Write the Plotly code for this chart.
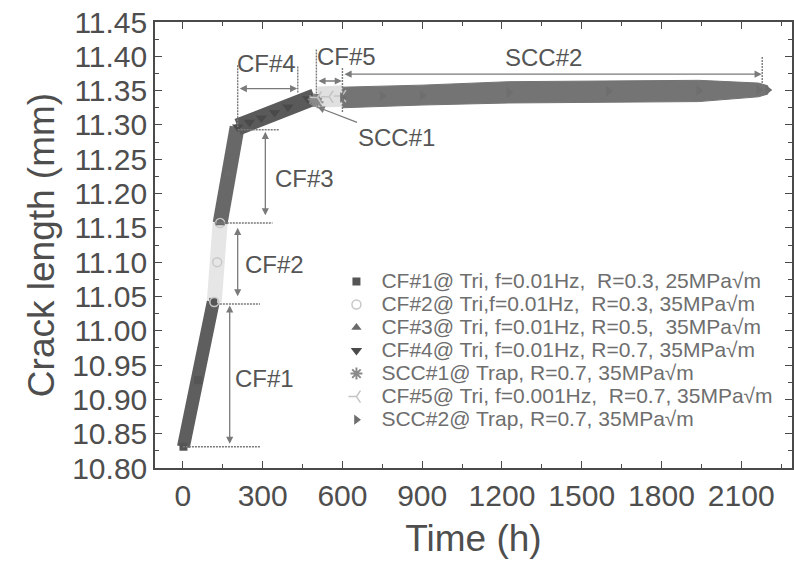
import plotly.graph_objects as go

# ---------------- data ----------------
# (time in h, crack length in mm) along the centre of each data band
cf1_t = [2, 57, 114]
cf1_v = [10.831, 10.928, 11.042]

cf2_t = [118, 129, 140]
cf2_v = [11.042, 11.100, 11.157]

cf3_t = [140, 172, 204]
cf3_v = [11.157, 11.228, 11.297]

cf4_t = [206, 250, 295, 345, 395, 470, 495]
cf4_v = [11.297, 11.304, 11.310, 11.318, 11.326, 11.338, 11.341]

scc1_t = [492, 499, 506]
scc1_v = [11.337, 11.335, 11.333]

cf5_t = [506, 550, 598]
cf5_hi = [11.355, 11.356, 11.357]
cf5_lo = [11.326, 11.326, 11.327]
cf5_v = [11.340, 11.341, 11.342]

scc2_t = [600, 750, 900, 1226, 1600, 1940, 2165, 2200]
scc2_hi = [11.355, 11.356, 11.358, 11.363, 11.364, 11.365, 11.361, 11.357]
scc2_lo = [11.325, 11.327, 11.329, 11.332, 11.333, 11.334, 11.341, 11.345]
scc2_v = [11.340, 11.342, 11.343, 11.347, 11.349, 11.350, 11.351, 11.351]

legend_names = [
    "CF#1@ Tri, f=0.01Hz,  R=0.3, 25MPa\u221am",
    "CF#2@ Tri,f=0.01Hz,  R=0.3, 35MPa\u221am",
    "CF#3@ Tri, f=0.01Hz, R=0.5,  35MPa\u221am",
    "CF#4@ Tri, f=0.01Hz, R=0.7, 35MPa\u221am",
    "SCC#1@ Trap, R=0.7, 35MPa\u221am",
    "CF#5@ Tri, f=0.001Hz,  R=0.7, 35MPa\u221am",
    "SCC#2@ Trap, R=0.7, 35MPa\u221am",
]

x_ticks = [0, 300, 600, 900, 1200, 1500, 1800, 2100]
y_ticks = [10.80, 10.85, 10.90, 10.95, 11.00, 11.05, 11.10, 11.15,
           11.20, 11.25, 11.30, 11.35, 11.40, 11.45]

FONT = "Liberation Sans, Arial, sans-serif"
fig = go.Figure()


def band_line(t, v, color, width, group):
    fig.add_trace(go.Scatter(x=t, y=v, mode="lines", line=dict(color=color, width=width),
                             showlegend=False, legendgroup=group, hoverinfo="skip"))


def band_poly(t, hi, lo, color, group):
    fig.add_trace(go.Scatter(x=list(t) + list(t)[::-1], y=list(hi) + list(lo)[::-1],
                             mode="lines", fill="toself", fillcolor=color,
                             line=dict(color=color, width=1),
                             showlegend=False, legendgroup=group, hoverinfo="skip"))


def marks(t, v, name, symbol, color, size, group, lw=0, lc=None):
    label = '<span style="font-size:21px">' + name + '</span>'
    fig.add_trace(go.Scatter(x=t, y=v, mode="markers", name=label, legendgroup=group,
                             marker=dict(symbol=symbol, color=color, size=size,
                                         line=dict(width=lw, color=lc or color))))


band_line(cf2_t, cf2_v, "#e6e6e6", 15, "g2")
band_line(cf1_t, cf1_v, "#5e5e5e", 13, "g1")
band_line(cf3_t, cf3_v, "#686868", 15, "g3")
band_line(cf4_t, cf4_v, "#5a5a5a", 17, "g4")
band_poly(cf5_t, cf5_hi, cf5_lo, "#e0e0e0", "g6")
band_poly(scc2_t, scc2_hi, scc2_lo, "#747474", "g7")

marks(cf1_t, cf1_v, legend_names[0], "square", "#555555", 8, "g1")
marks(cf2_t, cf2_v, legend_names[1], "circle-open", "#c8c8c8", 9, "g2", 1.5)
marks(cf3_t, cf3_v, legend_names[2], "triangle-up", "#6a6a6a", 9, "g3")
marks(cf4_t, cf4_v, legend_names[3], "triangle-down", "#4a4a4a", 10, "g4")
marks(scc1_t, scc1_v, legend_names[4], "asterisk", "#9a9a9a", 10, "g5", 2, "#8a8a8a")
marks(cf5_t, cf5_v, legend_names[5], "y-left", "#c4c4c4", 10, "g6", 1.5, "#c4c4c4")
marks(scc2_t, scc2_v, legend_names[6], "triangle-right", "#6e6e6e", 9, "g7")

# ---- bracket lines and arrows ----
LC = "#7a7a7a"
lines = [
    (0, 10.831, 290, 10.831), (139, 11.039, 290, 11.039),       # CF#1
    (120, 11.157, 337, 11.157), (206, 11.293, 364, 11.293),     # CF#3
    (206, 11.387, 206, 11.297), (432, 11.385, 432, 11.346),     # CF#4
    (502, 11.410, 502, 11.340), (600, 11.383, 600, 11.319),     # CF#5
    (2179, 11.399, 2179, 11.361),                               # SCC#2
]
for x0, y0, x1, y1 in lines:
    fig.add_shape(type="line", xref="x", yref="y", x0=x0, y0=y0, x1=x1, y1=y1,
                  line=dict(color=LC, width=1.4, dash="2px,1px"))

arrows = [
    (176, 10.833, 176, 11.037),   # CF#1
    (206, 11.048, 206, 11.150),   # CF#2
    (310, 11.166, 310, 11.290),   # CF#3
    (208, 11.353, 430, 11.353),   # CF#4
    (504, 11.364, 598, 11.364),   # CF#5
    (602, 11.374, 2177, 11.374),  # SCC#2
]
for x0, y0, x1, y1 in arrows:
    fig.add_annotation(x=x1, y=y1, ax=x0, ay=y0, xref="x", yref="y", axref="x", ayref="y",
                       text="", showarrow=True, arrowside="end+start", arrowhead=2,
                       arrowsize=1.1, arrowwidth=1.3, arrowcolor=LC, standoff=0, startstandoff=0)

labels = [
    ("CF#1", 307, 10.931), ("CF#2", 345, 11.096), ("CF#3", 457, 11.222),
    ("CF#4", 315, 11.390), ("CF#5", 615, 11.400), ("SCC#2", 1357, 11.398),
]
for txt, x, y in labels:
    fig.add_annotation(x=x, y=y, xref="x", yref="y", text=txt, showarrow=False,
                       font=dict(family=FONT, size=24, color="#555555"))

fig.add_annotation(x=506, y=11.326, ax=802, ay=11.282, xref="x", yref="y", axref="x", ayref="y",
                   text="SCC#1", showarrow=True, arrowhead=2, arrowsize=1.1, arrowwidth=1.3,
                   arrowcolor=LC, font=dict(family=FONT, size=24, color="#555555"))

axis_common = dict(showline=True, linecolor="#4a4a4a", linewidth=1.5, mirror="allticks",
                   ticks="inside", ticklen=7, tickwidth=1.3, tickcolor="#4a4a4a",
                   showgrid=False, zeroline=False,
                   tickfont=dict(family=FONT, size=30, color="#4e4e4e"))

fig.update_layout(
    width=794, height=568,
    margin=dict(l=155, r=0, t=22, b=100),
    paper_bgcolor="white", plot_bgcolor="white",
    xaxis=dict(range=[-105, 2291], tickvals=x_ticks, ticktext=[str(v) for v in x_ticks],
               minor=dict(dtick=150, tick0=0, ticks="inside", ticklen=4, tickcolor="#4a4a4a"),
               title=dict(text="Time (h)", font=dict(family=FONT, size=37, color="#4e4e4e"),
                          standoff=14),
               **axis_common),
    yaxis=dict(range=[10.80, 11.45], tickvals=y_ticks, ticktext=[f"{v:.2f}" for v in y_ticks],
               minor=dict(dtick=0.025, tick0=10.80, ticks="inside", ticklen=4, tickcolor="#4a4a4a"),
               title=dict(text="Crack length (mm)", font=dict(family=FONT, size=37, color="#4e4e4e"),
                          standoff=6),
               **axis_common),
    legend=dict(x=(332 - 155) / 639, y=(468 - 265) / 446, xanchor="left", yanchor="top",
                bgcolor="rgba(0,0,0,0)", itemwidth=40, tracegroupgap=0,
                font=dict(family=FONT, size=15.4, color="#6e6e6e")),
    showlegend=True,
)

fig.write_html("out.html", post_script="document.body.style.margin='0';",
               config={"displayModeBar": False})
